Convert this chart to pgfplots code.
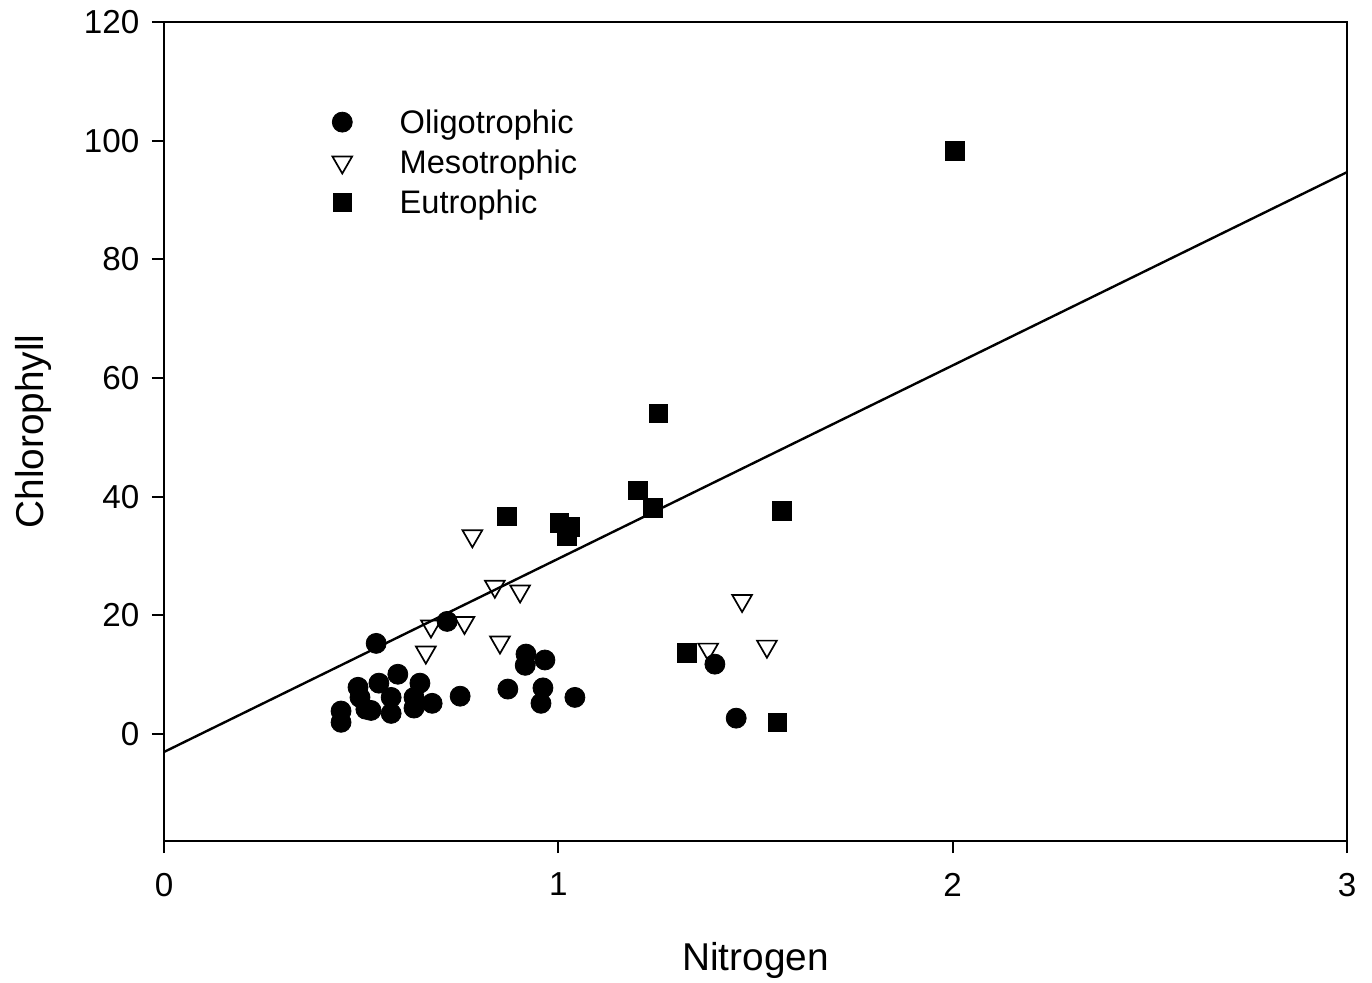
\documentclass[border=0pt]{standalone}
\usepackage{fontspec}
\setmainfont{Liberation Sans}
\usepackage{pgfplots}
\pgfplotsset{compat=1.18}
\pgfplotsset{myleg/.style={legend image code/.code={\draw[##1] plot coordinates {(0pt,0pt)}; \path (-8.5pt,0pt) (25.8pt,0pt);}}}
\begin{document}
\begin{tikzpicture}
\begin{axis}[
  width=591.5pt, height=409.5pt, scale only axis,
  xmin=0, xmax=3, ymin=-18, ymax=120,
  xtick={0,1,2,3}, ytick={0,20,...,120},
  tick pos=left, tick align=outside, major tick length=6pt,
  axis line style={line width=1pt}, every tick/.style={black, line width=1pt},
  /pgf/number format/assume math mode=true,
  tick label style={font=\fontsize{16.6}{19}\selectfont},
  xticklabel style={yshift=-6.5pt},
  yticklabel style={xshift=-2.8pt},
  xlabel={Nitrogen}, ylabel={Chlorophyll},
  xlabel style={at={(axis description cs:0.5,-0.1233)}, anchor=north, inner sep=0pt, font=\fontsize{19.4}{23}\selectfont},
  ylabel style={at={(axis description cs:-0.126,0.5)}, anchor=north, rotate=0, inner sep=0pt, font=\fontsize{19.4}{23}\selectfont},
  legend style={at={(axis cs:0.408,106.5)}, anchor=north west, draw=none, fill=none, inner sep=0pt, outer sep=0pt,
    font=\fontsize{16.3}{19}\selectfont, nodes={text height=13pt, text depth=1.6pt, inner sep=2.7pt}},
  legend cell align=left,
]
\addplot[only marks, myleg, mark=*, mark size=5pt, mark options={fill=black, draw=black}] coordinates {
(0.449,3.9) (0.449,2.0) (0.492,7.9) (0.497,6.2) (0.512,4.2) (0.525,4.0) (0.538,15.3) (0.545,8.6)
(0.576,6.2) (0.576,3.5) (0.593,10.1) (0.634,4.4) (0.634,6.2) (0.649,8.6) (0.680,5.2) (0.718,19.0)
(0.751,6.4) (0.872,7.6) (0.918,13.5) (0.916,11.6) (0.966,12.5) (0.961,7.8) (0.956,5.2) (1.042,6.2)
(1.397,11.8) (1.451,2.7)
};
\addlegendentry{Oligotrophic}
\addplot[only marks, myleg, mark=triangle, mark size=5.7pt, mark options={rotate=180, fill=white, draw=black, line width=0.85pt}] coordinates {
(0.782,33.4) (0.839,24.9) (0.903,24.1) (0.677,18.2) (0.762,18.8) (0.664,13.8) (0.852,15.5)
(1.466,22.5) (1.380,14.3) (1.529,14.8)
};
\addlegendentry{Mesotrophic}
\addplot[only marks, myleg, mark=square*, mark size=4.6pt, mark options={fill=black, draw=black}] coordinates {
(2.006,98.3) (1.253,54.1) (1.202,41.1) (1.240,38.1) (0.870,36.7) (1.002,35.6) (1.030,34.9)
(1.022,33.4) (1.567,37.6) (1.326,13.7) (1.555,2.0)
};
\addlegendentry{Eutrophic}
\addplot[forget plot, black, line width=1.2pt] coordinates {(0,-3.0) (3,94.7)};
\coordinate (bl) at (rel axis cs:0,0);
\coordinate (tr) at (rel axis cs:1,1);
\end{axis}
\pgfresetboundingbox
\path ([shift={(-82pt,-70.5pt)}]bl) rectangle ([shift={(12.5pt,11pt)}]tr);
\end{tikzpicture}
\end{document}
